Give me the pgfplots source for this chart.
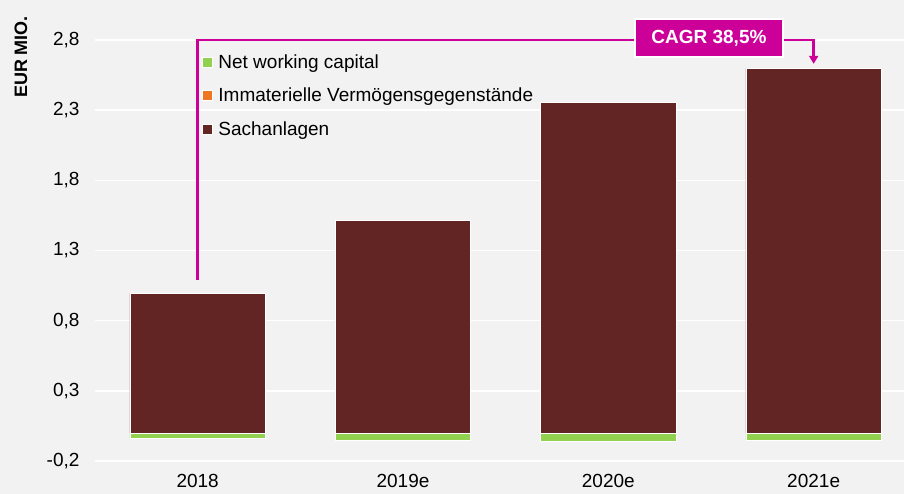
\documentclass[border=0pt]{standalone}
\usepackage{fontspec}
\setmainfont{Liberation Sans}
\usepackage{pgfplots}
\pgfplotsset{compat=1.18}
\usetikzlibrary{arrows.meta}
\definecolor{bg}{HTML}{F2F2F2}
\definecolor{brownC}{HTML}{632523}
\definecolor{greenC}{HTML}{92D050}
\definecolor{orangeC}{HTML}{EE7622}
\definecolor{mag}{HTML}{CC0099}
\pgfplotsset{sq legend/.style={legend image code/.code={%
  \draw[##1, draw=white, line width=0.5pt] (0pt,-5pt) rectangle (10pt,5pt);
  \path (14pt,0pt);}}}
\begin{document}
\begin{tikzpicture}
\fill[bg] (0,0) rectangle (904pt,494pt);
\useasboundingbox (0,0) rectangle (904pt,494pt);
\begin{axis}[
  at={(95pt,33pt)}, anchor=south west,
  scale only axis, width=809pt, height=421pt,
  clip=false,
  xmin=-0.5, xmax=3.44, ymin=-0.2, ymax=2.8,
  ybar, bar width=0.66,
  xtick={0,1,2,3}, xticklabels={2018,2019e,2020e,2021e},
  ytick={-0.2,0.3,0.8,1.3,1.8,2.3,2.8},
  yticklabel style={/pgf/number format/fixed, /pgf/number format/fixed zerofill,
    /pgf/number format/precision=1, /pgf/number format/use comma,
    /pgf/number format/assume math mode=true, /tikz/xshift=-12pt},
  ticklabel style={font=\fontsize{19}{22}\selectfont},
  xticklabel style={yshift=-10pt},
  major tick length=0pt,
  axis line style={draw=none},
  ymajorgrids, xmajorgrids=false,
  grid style={white, line width=1.5pt},
  legend style={at={(0.128,0.976)}, anchor=north west, draw=none, fill=none,
    font=\fontsize{19}{22}\selectfont, row sep=14.5pt},
  legend cell align=left,
]
\addplot[sq legend, bar shift=0pt, fill=greenC, draw=white, line width=0.8pt]
  coordinates {(0,-0.04) (1,-0.055) (2,-0.06) (3,-0.05)};
\addlegendentry{Net working capital}
\addlegendimage{sq legend, fill=orangeC}
\addlegendentry{Immaterielle Vermögensgegenstände}
\addplot[sq legend, bar shift=0pt, fill=brownC, draw=white, line width=0.8pt]
  coordinates {(0,0.995) (1,1.515) (2,2.355) (3,2.598)};
\addlegendentry{Sachanlagen}

\draw[mag, line width=2.5pt, -{Triangle[width=9pt,length=8pt]}]
  (axis cs:0,1.09) -- (axis cs:0,2.8) -- (axis cs:3,2.8) -- (axis cs:3,2.63);
\node[fill=mag, draw=white, line width=1.5pt, text=white,
  font=\bfseries\fontsize{19}{22}\selectfont, minimum width=148pt,
  minimum height=38pt, inner sep=0pt, yshift=2pt]
  at (axis cs:2.49,2.8) {CAGR 38,5\%};
\end{axis}
\node[rotate=90, font=\bfseries\fontsize{18}{21}\selectfont] at (21pt,437pt) {EUR MIO.};
\end{tikzpicture}
\end{document}
